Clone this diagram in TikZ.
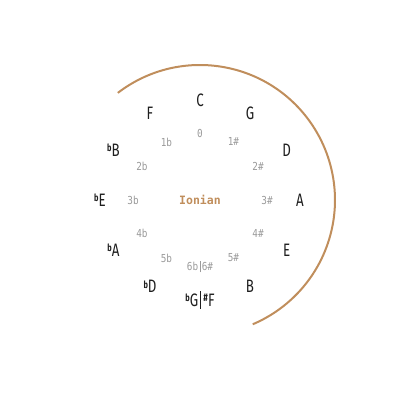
\documentclass[tikz,border=0pt]{standalone}
\usepackage{fontspec}
\usetikzlibrary{calc}
\newfontfamily\notefont[FakeStretch=0.74]{Fira Sans}
\newfontfamily\numfont[FakeStretch=0.85]{DejaVu Sans Mono}
\newfontfamily\modefont{DejaVu Sans Mono}
\definecolor{arccol}{HTML}{C08E5C}
\definecolor{numcol}{HTML}{9A9A9A}
\definecolor{notecol}{HTML}{1E1E1E}
\newcommand{\fl}{\raisebox{0.5ex}{\fontsize{10}{10}\selectfont\bfseries b}}
\newcommand{\sh}{\raisebox{0.5ex}{\fontsize{11}{11}\selectfont\bfseries\#}}
\tikzset{
  note/.style={font=\notefont\fontsize{18}{18}\selectfont, text=notecol, inner sep=0pt},
  num/.style={font=\numfont\fontsize{11}{11}\selectfont, text=numcol, inner sep=0pt},
}
\begin{document}
\begin{tikzpicture}[x=1pt,y=1pt]
\useasboundingbox (0,0) rectangle (400,400);
\coordinate (ctr) at (200,200);
\node[font=\modefont\bfseries\fontsize{11.5}{11.5}\selectfont, text=arccol] (mode) at (ctr) {Ionian};
% outer notes
\node[note] (nC) at ($(ctr)+(90:100)$) {C};
\node[note] (nG) at ($(ctr)+(60:100)$) {G};
\node[note] (nD) at ($(ctr)+(30:100)$) {D};
\node[note] (nA) at ($(ctr)+(0:100)$) {A};
\node[note] (nE) at ($(ctr)+(-30:100)$) {E};
\node[note] (nB) at ($(ctr)+(-60:100)$) {B};
\node[note] (nFs) at ($(ctr)+(-90:100)$) {\fl G\hspace{2pt}\rule[-0.12em]{1.2pt}{0.95em}\hspace{2pt}\sh F};
\node[note] (nDb) at ($(ctr)+(-120:100)$) {\fl D};
\node[note] (nAb) at ($(ctr)+(-150:100)$) {\fl A};
\node[note] (nEb) at ($(ctr)+(180:100)$) {\fl E};
\node[note] (nBb) at ($(ctr)+(150:100)$) {\fl B};
\node[note] (nF) at ($(ctr)+(120:100)$) {F};
% inner numbers
\node[num] (k0) at ($(ctr)+(90:67)$) {0};
\node[num] (k1s) at ($(ctr)+(60:67)$) {1\#};
\node[num] (k2s) at ($(ctr)+(30:67)$) {2\#};
\node[num] (k3s) at ($(ctr)+(0:67)$) {3\#};
\node[num] (k4s) at ($(ctr)+(-30:67)$) {4\#};
\node[num] (k5s) at ($(ctr)+(-60:67)$) {5\#};
\node[num] (k6) at ($(ctr)+(-90:67)$) {6b\hspace{1.5pt}\rule[-0.15em]{0.7pt}{1.0em}\hspace{1.5pt}6\#};
\node[num] (k5b) at ($(ctr)+(-120:67)$) {5b};
\node[num] (k4b) at ($(ctr)+(-150:67)$) {4b};
\node[num] (k3b) at ($(ctr)+(180:67)$) {3b};
\node[num] (k2b) at ($(ctr)+(150:67)$) {2b};
\node[num] (k1b) at ($(ctr)+(120:67)$) {1b};
% arc
\draw[arccol, line width=2pt] ($(ctr)+(127.5:135)$) arc[start angle=127.5, end angle=-67, radius=135];
\end{tikzpicture}
\end{document}
